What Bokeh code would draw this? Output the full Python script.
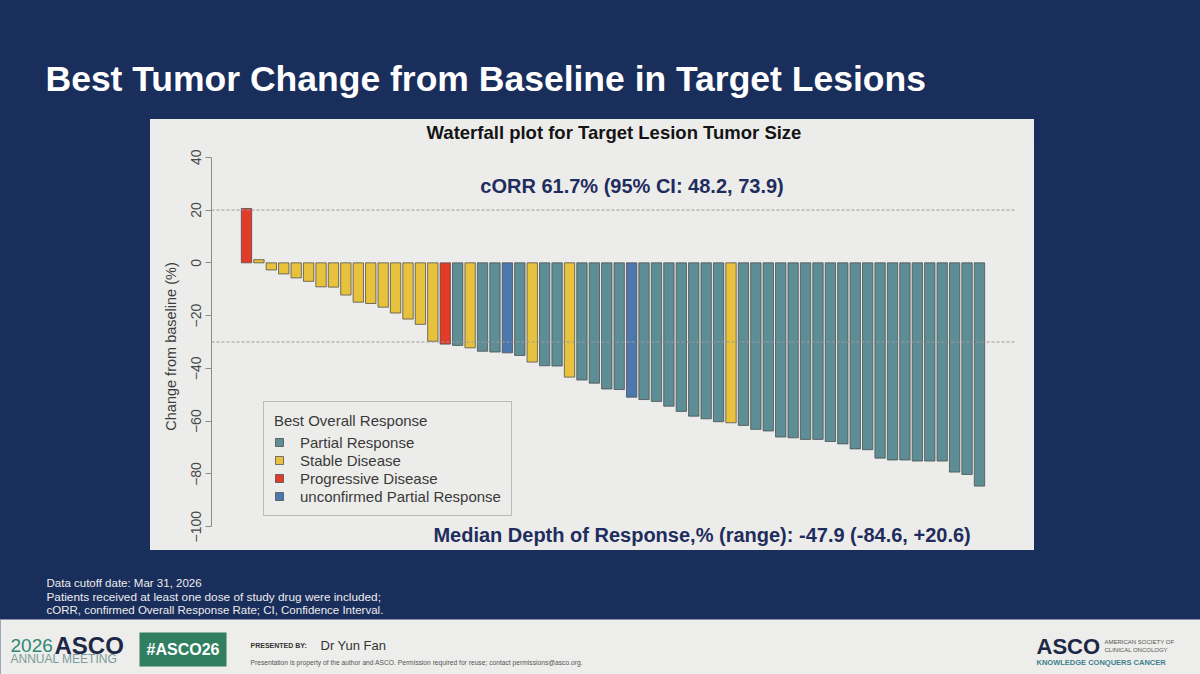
from bokeh.plotting import figure
from bokeh.layouts import column, row
from bokeh.models import (ColumnDataSource, Range1d, Span, Label, Legend, LegendItem,
                          FixedTicker, BoxAnnotation, GlobalInlineStyleSheet)
from bokeh.embed import file_html
from bokeh.resources import INLINE

# ---------------- data ----------------
patients = list(range(1, 61))
change = [20.6, 1.2, -2.7, -4.2, -5.7, -7.0, -9.1, -9.2, -12.2, -14.9,
          -15.4, -16.8, -19.0, -21.3, -23.3, -29.7, -30.8, -31.3, -32.2, -33.5,
          -33.8, -34.1, -35.1, -37.6, -39.0, -39.1, -43.3, -44.4, -45.6, -47.8,
          -48.0, -50.9, -51.8, -52.5, -54.3, -56.3, -58.1, -59.1, -60.2, -60.6,
          -61.6, -63.1, -63.7, -66.0, -66.3, -66.9, -66.9, -67.7, -68.6, -70.5,
          -70.8, -74.0, -74.7, -74.7, -75.1, -75.1, -75.1, -79.3, -80.2, -84.6]
response = (["PD"] + ["SD"] * 15 + ["PD", "PR", "SD", "PR", "PR", "uPR", "PR", "SD",
            "PR", "PR", "SD", "PR", "PR", "PR", "PR", "uPR"] + ["PR"] * 7 + ["SD"] + ["PR"] * 20)
codes = ["PR", "SD", "PD", "uPR"]
categories = ["Partial Response", "Stable Disease", "Progressive Disease",
              "unconfirmed Partial Response"]
colors = ["#5E8E95", "#E9C23D", "#E23B2A", "#4C78AE"]
y_ticks = [-100, -80, -60, -40, -20, 0, 20, 40]
ref_lines = [20, -30]

NAVY = "#1a2e5c"
PANEL = "#ececea"
BAND = "#ededeb"
FONT = "Liberation Sans"
TEXT_NAVY = "#1f2d5e"


def blank(w, h, color):
    f = figure(width=w, height=h, output_backend="svg", toolbar_location=None,
               x_axis_type=None, y_axis_type=None,
               x_range=Range1d(0, w), y_range=Range1d(0, h),
               min_border=0, outline_line_color=None,
               background_fill_color=color, border_fill_color=color)
    return f


def lab(f, x, y, text, size, color, bold=False, align="left"):
    f.add_layout(Label(x=x, y=y, text=text, text_font=FONT, text_font_size=size,
                       text_color=color, text_font_style="bold" if bold else "normal",
                       text_align=align, text_baseline="middle"))


# ---------------- header ----------------
header = blank(1200, 119, NAVY)
lab(header, 45, 41, "Best Tumor Change from Baseline in Target Lesions", "35.5px", "#ffffff", bold=True)

# ---------------- main chart ----------------
p = figure(width=884, height=431, output_backend="svg", toolbar_location=None,
           x_axis_type=None,
           x_range=Range1d(-1.817, 62.98), y_range=Range1d(-109.0, 45.6),
           min_border_left=61, min_border_right=18, min_border_top=23, min_border_bottom=0,
           title="Waterfall plot for Target Lesion Tumor Size",
           background_fill_color=PANEL, border_fill_color=PANEL, outline_line_color=None)
p.title.align = "center"
p.title.text_font = FONT
p.title.text_font_size = "18.5px"
p.title.text_font_style = "bold"
p.title.text_color = "#141414"
p.title.standoff = 0
p.title.offset = 0
p.grid.visible = False

color_map = dict(zip(codes, colors))
src = ColumnDataSource(dict(patient=patients, change=change, response=response,
                            color=[color_map[r] for r in response]))
bars = p.vbar(x="patient", top="change", bottom=0, width=1 / 1.2, source=src,
              fill_color="color", line_color="#4a4a4a", line_alpha=0.75, line_width=1)

for yv in ref_lines:
    p.add_layout(Span(location=yv, dimension="width", line_color="#9a9a9a",
                      line_dash="3 2", line_width=1))

ax = p.yaxis[0]
ax.ticker = FixedTicker(ticks=y_ticks)
ax.bounds = (min(y_ticks), max(y_ticks))
ax.axis_line_color = "#8c8c8c"
ax.major_tick_line_color = "#8c8c8c"
ax.major_tick_out = 6
ax.major_tick_in = 0
ax.minor_tick_line_color = None
ax.major_label_orientation = "vertical"
ax.major_label_text_font = FONT
ax.major_label_text_font_size = "14px"
ax.major_label_text_color = "#4a4a4a"
ax.major_label_standoff = 4
ax.axis_label = "Change from baseline (%)"
ax.axis_label_text_font = FONT
ax.axis_label_text_font_size = "14.5px"
ax.axis_label_text_font_style = "normal"
ax.axis_label_text_color = "#3c3c3c"
ax.axis_label_standoff = 10

items = [LegendItem(label=cat, renderers=[bars], index=response.index(code))
         for cat, code in zip(categories, codes)]
legend = Legend(items=items, title="Best Overall Response", location=(52, 34),
                title_text_font=FONT, title_text_font_size="15px", title_text_font_style="normal",
                title_text_color="#3a3a3a", title_standoff=4,
                label_text_font=FONT, label_text_font_size="15px", label_text_color="#3a3a3a",
                glyph_width=10, glyph_height=10, label_height=18, label_standoff=16,
                spacing=0, padding=10, border_line_color="#8a8a8a", border_line_width=1,
                background_fill_color=PANEL, background_fill_alpha=1)
p.add_layout(legend)

p.add_layout(Label(x=32.03, y=29.0, text="cORR 61.7% (95% CI: 48.2, 73.9)",
                   text_font=FONT, text_font_size="20px", text_font_style="bold",
                   text_color=TEXT_NAVY, text_align="center", text_baseline="middle"))
p.add_layout(Label(x=37.67, y=-103.1, text="Median Depth of Response,% (range): -47.9 (-84.6, +20.6)",
                   text_font=FONT, text_font_size="20px", text_font_style="bold",
                   text_color=TEXT_NAVY, text_align="center", text_baseline="middle"))

left = blank(150, 431, NAVY)
right = blank(166, 431, NAVY)

# ---------------- footer ----------------
footer = blank(1200, 124, NAVY)
footer.add_layout(BoxAnnotation(bottom=0, top=55, fill_color=BAND, fill_alpha=1, line_color=None))
lab(footer, 46, 92, "Data cutoff date: Mar 31, 2026", "11.5px", "#ececec")
lab(footer, 46, 78, "Patients received at least one dose of study drug were included;", "11.8px", "#ececec")
lab(footer, 46, 65, "cORR, confirmed Overall Response Rate;  CI, Confidence Interval.", "11.5px", "#ececec")

lab(footer, 10, 29, "2026", "19px", "#2d8872")
lab(footer, 54, 29, "ASCO", "24px", "#1d2847", bold=True)
lab(footer, 10, 16, "ANNUAL MEETING", "12px", "#7a9c96")

footer.add_layout(BoxAnnotation(left=139, right=226, bottom=8, top=42, fill_color="#2f7f60",
                                fill_alpha=1, line_color=None))
lab(footer, 182.5, 25, "#ASCO26", "16px", "#ffffff", bold=True, align="center")

lab(footer, 250, 29, "PRESENTED BY:", "7px", "#333333", bold=True)
lab(footer, 320, 29, "Dr Yun Fan", "13px", "#333333")
lab(footer, 250, 12, "Presentation is property of the author and ASCO. Permission required for reuse; contact permissions@asco.org.",
    "6.7px", "#555555")

lab(footer, 1036, 28, "ASCO", "22px", "#1d2847", bold=True)
lab(footer, 1104, 33, "AMERICAN SOCIETY OF", "6px", "#555555")
lab(footer, 1104, 25, "CLINICAL ONCOLOGY", "6px", "#555555")
lab(footer, 1036, 12, "KNOWLEDGE CONQUERS CANCER", "7.5px", "#3d7f8f", bold=True)

page_css = GlobalInlineStyleSheet(css=(
    "html,body{background:"
    "linear-gradient(%s,%s) 150px 119px / 884px 431px no-repeat,"
    "linear-gradient(to bottom,%s 0px,%s 619px,%s 619px,%s 100%%);}"
    % (PANEL, PANEL, NAVY, NAVY, BAND, BAND)))

layout = column(header, row(left, p, right, spacing=0), footer, spacing=0,
                stylesheets=[page_css])

open("out.html", "w").write(file_html(layout, INLINE))
